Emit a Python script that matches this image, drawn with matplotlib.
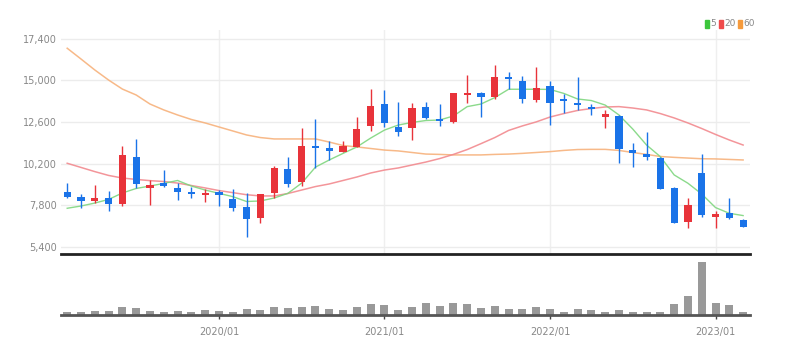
import pandas as pd
import matplotlib
matplotlib.use("Agg")
import matplotlib.pyplot as plt
from matplotlib.patches import Rectangle

plt.rcParams['font.family'] = ['Liberation Sans Narrow', 'DejaVu Sans']

# monthly candles, 2019/02 .. 2023/03
months = pd.date_range('2019-02-01', periods=50, freq='MS')

opens = [8580, 8260, 8030, 8200, 7900, 10560, 8780, 9080, 8810, 8550,
         8380, 8550, 8160, 7690, 7090, 8490, 9870, 9160, 11210, 11080,
         10890, 11140, 12370, 13630, 12320, 12270, 13480, 12790, 12610, 14150,
         14250, 14050, 15170, 14970, 13860, 14670, 13900, 13670, 13480, 12900,
         12960, 10980, 10740, 10540, 8780, 6820, 9680, 7150, 7340, 6960]
closes = [8300, 8070, 8220, 7880, 10700, 9030, 8990, 8930, 8550, 8430,
          8530, 8390, 7630, 7010, 8430, 9930, 9030, 11210, 11080, 10930,
          11210, 12190, 13530, 12520, 12040, 13420, 12840, 12670, 14250, 14250,
          14030, 15170, 15070, 13920, 14570, 13710, 13800, 13560, 13360, 13060,
          11040, 10830, 10600, 8740, 6800, 7820, 7240, 7280, 7050, 6570]
highs = [9100, 8450, 8970, 8640, 11210, 11600, 9260, 9830, 9100, 8870,
         8720, 8680, 8720, 8530, 8450, 10060, 10560, 12230, 12770, 11520,
         11500, 12900, 14490, 14440, 13760, 13710, 13760, 13610, 14260, 15300,
         14320, 15880, 15490, 15260, 15740, 14970, 14190, 15170, 13630, 13290,
         13000, 11400, 12000, 10600, 8870, 8200, 10750, 7470, 8200, 7000]
lows = [8200, 7630, 7950, 7470, 7760, 8780, 7820, 8870, 8110, 8200,
        8010, 7760, 7490, 5990, 6770, 8200, 8870, 8910, 9930, 10410,
        10870, 11140, 12080, 12320, 11790, 11560, 12750, 12370, 12560, 13670,
        12870, 13900, 14480, 13670, 13760, 12420, 13100, 13290, 12970, 12230,
        10220, 9990, 10410, 8720, 6770, 6480, 7150, 6480, 7000, 6540]

# volume in thousand shares
volumes = [150, 135, 185, 185, 385, 335, 185, 150, 185, 150,
           265, 185, 150, 315, 250, 400, 335, 400, 435, 315,
           250, 400, 565, 485, 250, 385, 585, 465, 585, 565,
           335, 465, 300, 315, 415, 315, 165, 300, 235, 165,
           250, 165, 165, 165, 550, 950, 2665, 585, 485, 150]

ma5 = [7630, 7760, 7930, 8140, 8510, 8770, 8910, 9060, 9230, 8910,
       8680, 8490, 8300, 8020, 8050, 8220, 8490, 9080, 10000, 10410,
       10790, 11160, 11670, 12130, 12420, 12570, 12680, 12710, 12940, 13480,
       13630, 14000, 14480, 14480, 14480, 14470, 14240, 13920, 13830, 13570,
       13000, 12190, 11270, 10600, 9550, 9070, 8450, 7670, 7340, 7210]
ma20 = [10220, 9980, 9740, 9520, 9370, 9290, 9220, 9170, 9080, 8940,
        8800, 8650, 8530, 8410, 8340, 8340, 8480, 8680, 8880, 9030,
        9230, 9430, 9660, 9830, 9950, 10120, 10290, 10490, 10730, 11010,
        11350, 11700, 12110, 12370, 12600, 12880, 13080, 13260, 13370, 13460,
        13480, 13400, 13290, 13080, 12830, 12540, 12220, 11880, 11560, 11270]
ma60 = [16840, 16220, 15590, 15010, 14490, 14150, 13630, 13290, 13000, 12740,
        12540, 12310, 12080, 11850, 11700, 11620, 11620, 11620, 11620, 11440,
        11240, 11160, 11070, 10980, 10930, 10840, 10750, 10730, 10700, 10700,
        10700, 10730, 10750, 10790, 10840, 10890, 10960, 11010, 11020, 11020,
        10960, 10840, 10730, 10610, 10560, 10520, 10480, 10470, 10440, 10410]

price_ticks = [5400, 7800, 10200, 12600, 15000, 17400]
up_color = '#e8333a'
down_color = '#1a73e8'

fig = plt.figure(figsize=(7.88, 3.53), dpi=100)
ax = fig.add_axes([61 / 788, 1 - 254 / 353, 689 / 788, 224 / 353])
axv = fig.add_axes([61 / 788, 1 - 315 / 353, 689 / 788, 61 / 353], sharex=ax)

x = list(range(len(months)))
year_pos = [i for i, m in enumerate(months) if m.month == 1]
year_lbl = [m.strftime('%Y/%m') for m in months if m.month == 1]

# moving averages
ax.plot(x, ma60, color='#f7b27c', lw=1.1, alpha=0.9, zorder=2)
ax.plot(x, ma20, color='#f28a8f', lw=1.1, alpha=0.9, zorder=2)
ax.plot(x, ma5, color='#7fd67f', lw=1.0, alpha=0.9, zorder=2)

# candles
for i in x:
    o, c, h, l = opens[i], closes[i], highs[i], lows[i]
    col = up_color if c >= o else down_color
    ax.vlines(i, l, h, color=col, lw=1, zorder=3)
    body = max(abs(c - o), 60)
    ax.bar(i, body, bottom=min(o, c), width=0.52, color=col, zorder=4)

ax.set_ylim(4998, 17890)
ax.set_xlim(-0.45, 49.5)
ax.set_yticks(price_ticks)
ax.set_yticklabels([f'{v:,}' for v in price_ticks])
ax.grid(axis='y', color='#ececec', lw=1)
for p in year_pos:
    ax.axvline(p, color='#efefef', lw=1, zorder=0)
ax.tick_params(axis='y', length=0, labelsize=7, labelcolor='#888888', pad=3)
ax.tick_params(axis='x', length=0, labelbottom=False)
for s in ['top', 'right', 'left']:
    ax.spines[s].set_visible(False)
ax.spines['bottom'].set_color('#222222')
ax.spines['bottom'].set_linewidth(2)

# volume
axv.bar(x, volumes, width=0.58, color='#999999', zorder=2)
axv.set_ylim(0, 3050)
axv.set_yticks([])
axv.set_xticks(year_pos)
axv.set_xticklabels(year_lbl)
axv.tick_params(axis='x', length=3, width=1, color='#444444',
                labelsize=7, labelcolor='#888888', pad=6)
for s in ['top', 'right', 'left']:
    axv.spines[s].set_visible(False)
axv.spines['bottom'].set_color('#555555')
axv.spines['bottom'].set_linewidth(2)
axv.set_facecolor('none')

# legend
legend_items = [('5', '#3cc63c'), ('20', '#ef4b4b'), ('60', '#f59a3c')]
lx = 705
for lbl, col in legend_items:
    fig.patches.append(Rectangle((lx / 788, 1 - 28 / 353), 4 / 788, 8 / 353,
                                 transform=fig.transFigure, color=col))
    fig.text((lx + 5) / 788, 1 - 24 / 353, lbl, fontsize=6.5, color='#888888',
             va='center', ha='left')
    lx += 5 + 5 * len(lbl) + 4

fig.savefig('out.png', dpi=100)
